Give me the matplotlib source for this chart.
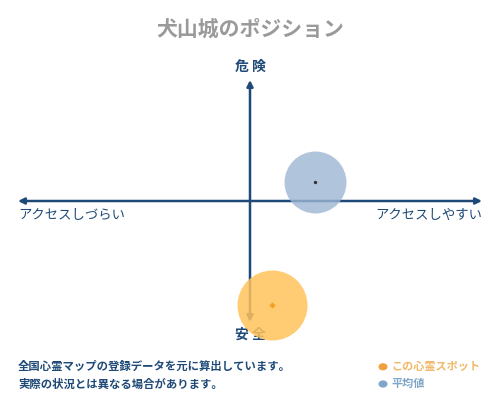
import matplotlib
matplotlib.use("Agg")
import matplotlib.pyplot as plt

plt.rcParams['font.family'] = ['Noto Sans CJK JP', 'DejaVu Sans']

# positions on the map, both axes run -1..1 (x: access, y: danger)
spot_name = "犬山城"
spot_xy = (0.095, -0.86)
avg_xy = (0.28, 0.157)
spot_size = 2540   # marker area in pt^2
avg_size = 1990

axis_labels = {"top": "危 険", "bottom": "安 全",
               "left": "アクセスしづらい", "right": "アクセスしやすい"}
notes = ["全国心霊マップの登録データを元に算出しています。",
         "実際の状況とは異なる場合があります。"]
legend_labels = ["この心霊スポット", "平均値"]

navy = "#1f4a78"
orange = "#ffc35a"
blue = "#9db6d3"

fig = plt.figure(figsize=(5, 4), dpi=100)
ax = fig.add_axes([0.036, 0.195, 0.928, 0.605])
ax.set_xlim(-1, 1)
ax.set_ylim(-1, 1)
ax.axis("off")

# cross axes with arrowheads
arrow = dict(arrowstyle="-|>", color=navy, lw=1.8, mutation_scale=9,
             shrinkA=0, shrinkB=0)
ax.annotate("", xy=(-1, 0), xytext=(0, 0), arrowprops=arrow)
ax.annotate("", xy=(1, 0), xytext=(0, 0), arrowprops=arrow)
ax.annotate("", xy=(0, 1), xytext=(0, 0), arrowprops=arrow)
ax.annotate("", xy=(0, -1), xytext=(0, 0), arrowprops=arrow)

# labels around the cross (inside the axes so the bubbles can sit on top)
def label(x, y, s, **kw):
    ax.text(x, y, s, transform=fig.transFigure, va="center", color=navy,
            clip_on=False, zorder=2, **kw)

label(0.5, 0.833, axis_labels["top"], ha="center", fontsize=10, fontweight="bold")
label(0.5, 0.163, axis_labels["bottom"], ha="center", fontsize=10, fontweight="bold")
label(0.036, 0.462, axis_labels["left"], ha="left", fontsize=9.6)
label(0.964, 0.462, axis_labels["right"], ha="right", fontsize=9.6)

ax.scatter(*avg_xy, s=avg_size, color=blue, alpha=0.8, lw=0, zorder=3, clip_on=False)
ax.scatter(*avg_xy, s=2, color="#333333", zorder=4, clip_on=False)
ax.scatter(*spot_xy, s=spot_size, color=orange, alpha=0.85, lw=0, zorder=5, clip_on=False)
ax.scatter(*spot_xy, s=10, marker="D", color="#f5a020", lw=0, zorder=6, clip_on=False)

fig.text(0.5, 0.927, spot_name + "のポジション", ha="center", va="center",
         fontsize=15, fontweight="bold", color="#9a9a9a")

fig.text(0.036, 0.083, notes[0], ha="left", va="center",
         fontsize=8.2, fontweight="bold", color=navy)
fig.text(0.036, 0.04, notes[1], ha="left", va="center",
         fontsize=8.2, fontweight="bold", color=navy)

# legend
fig.patches.append(matplotlib.patches.Circle((0.766, 0.083), 0.009,
                   transform=fig.transFigure, color="#f0a040", ec="none"))
fig.patches.append(matplotlib.patches.Circle((0.766, 0.04), 0.009,
                   transform=fig.transFigure, color="#7fa6c8", ec="none"))
fig.text(0.782, 0.083, legend_labels[0], ha="left", va="center",
         fontsize=8, fontweight="bold", color="#f0b868")
fig.text(0.782, 0.04, legend_labels[1], ha="left", va="center",
         fontsize=8, fontweight="bold", color="#7fa6c8")

fig.savefig("out.png", dpi=100)
